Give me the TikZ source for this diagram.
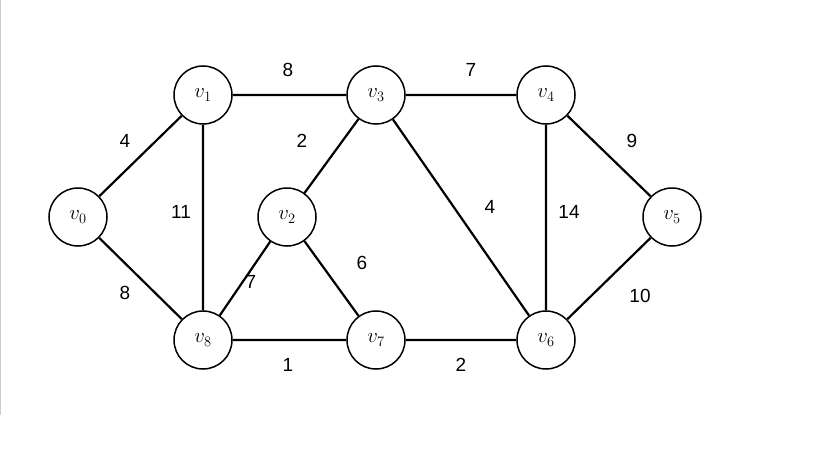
\documentclass[tikz,border=0pt]{standalone}
\usepackage{fix-cm}
\usepackage{fontspec}
\setsansfont{Liberation Sans}
\begin{document}
\begin{tikzpicture}[x=1pt,y=-1pt,
  vert/.style={circle,draw,line width=1.5pt,minimum size=58pt,inner sep=0pt,font=\huge,fill=white},
  edge/.style={line width=2.2pt},
  wt/.style={font=\sffamily\fontsize{19}{22}\selectfont}]
\useasboundingbox (0,0) rectangle (819,460);
\draw[gray!40,line width=1pt] (0.5,0) -- (0.5,415);
\coordinate (n0) at (78,217);
\coordinate (n1) at (203,95);
\coordinate (n3) at (376,95);
\coordinate (n4) at (546,95);
\coordinate (n5) at (672,217);
\coordinate (n2) at (287,217);
\coordinate (n8) at (203,340);
\coordinate (n7) at (376,340);
\coordinate (n6) at (546,340);
\node[vert] (v0) at (n0) {$v_0$};
\node[vert] (v1) at (n1) {$v_1$};
\node[vert] (v2) at (n2) {$v_2$};
\node[vert] (v3) at (n3) {$v_3$};
\node[vert] (v4) at (n4) {$v_4$};
\node[vert] (v5) at (n5) {$v_5$};
\node[vert] (v6) at (n6) {$v_6$};
\node[vert] (v7) at (n7) {$v_7$};
\node[vert] (v8) at (n8) {$v_8$};
\draw[edge] (v0)--(v1) (v0)--(v8) (v1)--(v3) (v1)--(v8) (v3)--(v4)
  (v3)--(v2) (v3)--(v6) (v4)--(v6) (v4)--(v5) (v5)--(v6)
  (v2)--(v8) (v2)--(v7) (v8)--(v7) (v7)--(v6);
\node[wt] (w1) at (288,70) {8};
\node[wt] (w2) at (471,70) {7};
\node[wt] (w3) at (125,141) {4};
\node[wt] (w4) at (632,141) {9};
\node[wt] (w5) at (302,141) {2};
\node[wt] (w6) at (181,212) {11};
\node[wt] (w7) at (490,207) {4};
\node[wt] (w8) at (569,212) {14};
\node[wt] (w9) at (362,263) {6};
\node[wt] (w10) at (251,282) {7};
\node[wt] (w11) at (125,293) {8};
\node[wt] (w12) at (640,296) {10};
\node[wt] (w13) at (288,365) {1};
\node[wt] (w14) at (461,365) {2};
\end{tikzpicture}
\end{document}
